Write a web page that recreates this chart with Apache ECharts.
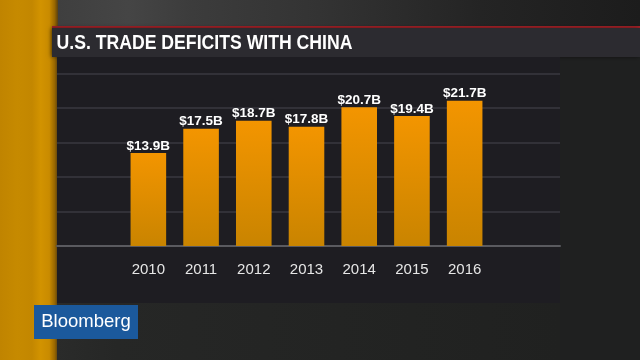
<!DOCTYPE html>
<html>
<head>
<meta charset="utf-8">
<style>
  html, body { margin: 0; padding: 0; background: #1f2020; }
  #chart { width: 640px; height: 360px; }
</style>
<script src="https://cdn.jsdelivr.net/npm/echarts@6/dist/echarts.min.js"></script>
</head>
<body>
<div id="chart"></div>
<script>
// ---- data ----
const titleText = 'U.S. TRADE DEFICITS WITH CHINA';
const years = ['2010', '2011', '2012', '2013', '2014', '2015', '2016'];
const deficits = [13.9, 17.5, 18.7, 17.8, 20.7, 19.4, 21.7]; // billions USD
const brandText = 'Bloomberg';

const SANS = "'Liberation Sans', Arial, Helvetica, sans-serif";

const chart = echarts.init(document.getElementById('chart'), null, { renderer: 'canvas' });

const yScale = { min: 0, max: 25.75, interval: 5.15 };

chart.setOption({
  backgroundColor: '#1f2020',
  animation: false,
  graphic: [
    // top backdrop
    { type: 'rect', z: -10, shape: { x: 0, y: 0, width: 640, height: 27 },
      style: { fill: new echarts.graphic.LinearGradient(0, 0, 1, 0, [
        { offset: 0, color: '#3a3a3a' }, { offset: 0.2, color: '#454545' },
        { offset: 0.3, color: '#3c3c3c' }, { offset: 0.5, color: '#333333' },
        { offset: 0.75, color: '#242424' }, { offset: 1, color: '#1c1c1c' }]) } },
    // orange side stripe
    { type: 'rect', z: -10, shape: { x: 0, y: 0, width: 58, height: 360 },
      style: { fill: new echarts.graphic.LinearGradient(0, 0, 1, 0, [
        { offset: 0, color: '#c08400' }, { offset: 0.3, color: '#c68a00' },
        { offset: 0.55, color: '#c38700' }, { offset: 0.7, color: '#d29300' },
        { offset: 0.85, color: '#c98b00' }, { offset: 0.94, color: '#9a6800' },
        { offset: 1, color: '#5a4010' }]) } },
    // red rule
    { type: 'rect', z: -9, shape: { x: 52, y: 26, width: 588, height: 2 }, style: { fill: '#a52228' } },
    // title bar
    { type: 'rect', z: -9, shape: { x: 52, y: 28, width: 588, height: 29 },
      style: { fill: '#2c2b30', shadowColor: 'rgba(0,0,0,0.5)', shadowBlur: 4, shadowOffsetX: -1 } },
    // chart panel
    { type: 'rect', z: -9, shape: { x: 57, y: 57, width: 503, height: 246 }, style: { fill: '#1e1d22' } },
    // lighter strip under panel
    { type: 'rect', z: -9, shape: { x: 57, y: 303, width: 503, height: 57 },
      style: { fill: new echarts.graphic.LinearGradient(0, 0, 1, 0, [
        { offset: 0, color: '#2a2b2a' }, { offset: 0.12, color: '#262726' },
        { offset: 1, color: '#202120' }]) } },
    // title text (condensed by horizontal scaling)
    { type: 'text', z: 5, x: 56.5, y: 43, scaleX: 0.84,
      style: { text: titleText, fill: '#ffffff', font: "bold 21px " + SANS, align: 'left', verticalAlign: 'middle' } },
    // brand box
    { type: 'group', z: 10, children: [
      { type: 'rect', shape: { x: 34, y: 305, width: 104, height: 34 }, style: { fill: '#1b599c' } },
      { type: 'text', x: 86, y: 322, style: { text: brandText, fill: '#ffffff', font: "18.5px " + SANS, align: 'center', verticalAlign: 'middle' } }
    ] }
  ],
  grid: [
    { left: 57, right: 80, top: 73.5, bottom: 114 },
    { left: 122, right: 149, top: 73.5, bottom: 114 }
  ],
  xAxis: [
    { gridIndex: 0, type: 'value', min: 0, max: 1, show: true,
      axisLine: { show: true, lineStyle: { color: '#5a5a5f', width: 2 } },
      axisTick: { show: false }, axisLabel: { show: false }, splitLine: { show: false } },
    { gridIndex: 1, type: 'category', data: years,
      axisLine: { show: false }, axisTick: { show: false },
      axisLabel: { color: '#e6e6e6', fontSize: 15, fontFamily: SANS, margin: 16 } }
  ],
  yAxis: [
    { gridIndex: 0, type: 'value', min: yScale.min, max: yScale.max, interval: yScale.interval,
      axisLine: { show: false }, axisTick: { show: false }, axisLabel: { show: false },
      splitLine: { show: true, lineStyle: { color: '#3a3940', width: 1.5 } } },
    { gridIndex: 1, type: 'value', min: yScale.min, max: yScale.max, interval: yScale.interval,
      show: false, splitLine: { show: false } }
  ],
  series: [{
    type: 'bar',
    xAxisIndex: 1,
    yAxisIndex: 1,
    data: deficits,
    barWidth: '67.5%',
    z: 3,
    itemStyle: {
      color: new echarts.graphic.LinearGradient(0, 0, 0, 1, [
        { offset: 0, color: '#f39500' }, { offset: 1, color: '#c98400' }])
    },
    label: {
      show: true, position: 'top', distance: 0,
      formatter: p => '$' + p.value + 'B',
      color: '#ffffff', fontFamily: SANS, fontWeight: 'bold', fontSize: 13.5
    }
  }]
});
</script>
</body>
</html>
